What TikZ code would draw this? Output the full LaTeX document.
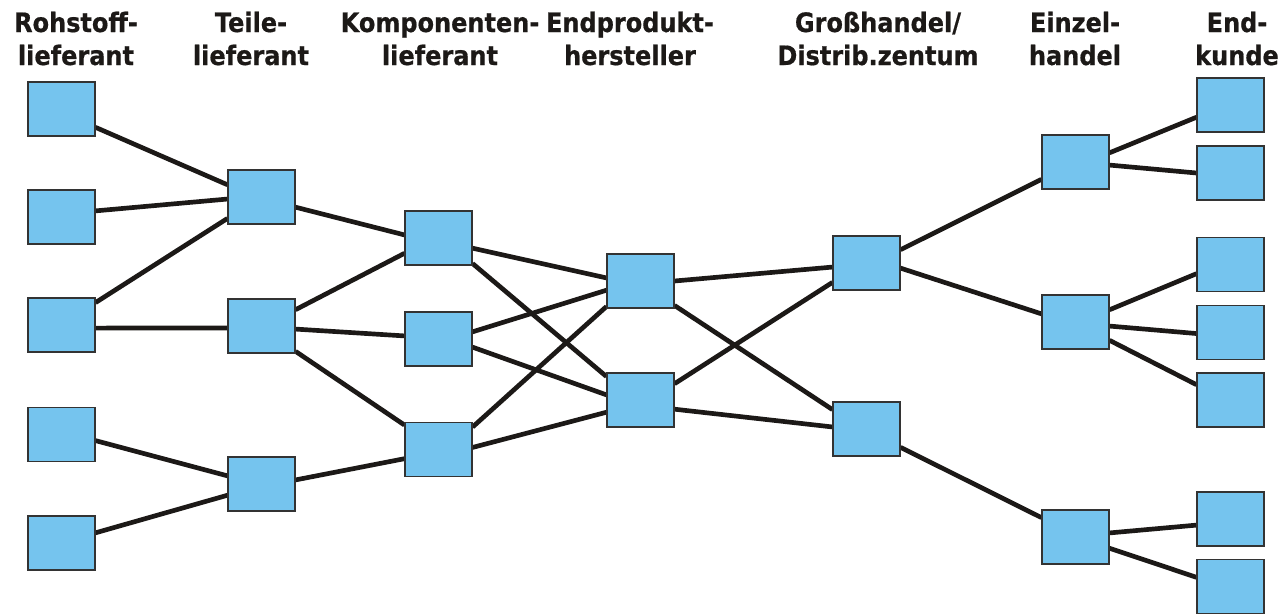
\documentclass[tikz,border=0pt]{standalone}
\usepackage{fontspec}
\setmainfont{DejaVu Sans}[FakeStretch=0.9,BoldFeatures={FakeBold=0.6}]
\usetikzlibrary{calc,backgrounds}
\definecolor{boxfill}{HTML}{75C4EE}
\definecolor{boxline}{HTML}{333333}
\definecolor{linkcol}{HTML}{1C1917}
\tikzset{
 box/.style={draw=boxline, fill=boxfill, line width=0.8pt, minimum width=50.25pt, minimum height=40.5pt, inner sep=0pt},
 link/.style={draw=linkcol, line width=3.5pt},
 title/.style={font=\bfseries\fontsize{20}{24.75}\selectfont, align=center, anchor=base, inner sep=0pt, text=linkcol}
}
\newcommand{\lnk}[4]{\draw[link] ($(#1.north east)!#2!(#1.south east)$) -- ($(#3.north west)!#4!(#3.south west)$);}
\begin{document}
\begin{tikzpicture}[x=0.75pt,y=-0.75pt]
\useasboundingbox (0,0) rectangle (1282,614);
% titles
\node[title] (h1) at (76,65) {Rohstoff-\\lieferant};
\node[title] (h2) at (251,65) {Teile-\\lieferant};
\node[title] (h3) at (440,65) {Komponenten-\\lieferant};
\node[title] (h4) at (630,65) {Endprodukt-\\hersteller};
\node[title] (h5) at (878,65) {Großhandel/\\Distrib.zentum};
\node[title] (h6) at (1075,65) {Einzel-\\handel};
\node[title] (h7) at (1237,65) {End-\\kunde};
% boxes
\node[box] (R1) at (61.5,109) {};
\node[box] (R2) at (61.5,217) {};
\node[box] (R3) at (61.5,325) {};
\node[box] (R4) at (61.5,434.5) {};
\node[box] (R5) at (61.5,543) {};
\node[box] (T1) at (261.5,197) {};
\node[box] (T2) at (261.5,326) {};
\node[box] (T3) at (261.5,484) {};
\node[box] (K1) at (438.5,238) {};
\node[box] (K2) at (438.5,339) {};
\node[box] (K3) at (438.5,449.5) {};
\node[box] (E1) at (640.5,281) {};
\node[box] (E2) at (640.5,400) {};
\node[box] (G1) at (866.5,263) {};
\node[box] (G2) at (866.5,429) {};
\node[box] (H1) at (1075.5,162) {};
\node[box] (H2) at (1075.5,322) {};
\node[box] (H3) at (1075.5,537) {};
\node[box] (C1) at (1230.5,105) {};
\node[box] (C2) at (1230.5,173) {};
\node[box] (C3) at (1230.5,264.5) {};
\node[box] (C4) at (1230.5,332.5) {};
\node[box] (C5) at (1230.5,400) {};
\node[box] (C6) at (1230.5,519) {};
\node[box] (C7) at (1230.5,586.5) {};
% links
\begin{scope}[on background layer]
\lnk{R1}{0.833}{T1}{0.278}
\lnk{R2}{0.389}{T1}{0.537}
\lnk{R3}{0.093}{T1}{0.889}
\lnk{R3}{0.556}{T2}{0.537}
\lnk{R4}{0.611}{T3}{0.352}
\lnk{R5}{0.315}{T3}{0.704}
\lnk{T1}{0.685}{K1}{0.444}
\lnk{T2}{0.204}{K1}{0.778}
\lnk{T2}{0.556}{K2}{0.444}
\lnk{T2}{0.96}{K3}{0.056}
\lnk{T3}{0.426}{K3}{0.667}
\lnk{K1}{0.685}{E1}{0.444}
\lnk{K1}{0.963}{E2}{0.074}
\lnk{K2}{0.370}{E1}{0.667}
\lnk{K2}{0.648}{E2}{0.407}
\lnk{K3}{0.093}{E1}{0.963}
\lnk{K3}{0.463}{E2}{0.722}
\lnk{E1}{0.5}{G1}{0.574}
\lnk{E1}{0.944}{G2}{0.148}
\lnk{E2}{0.204}{G1}{0.852}
\lnk{E2}{0.667}{G2}{0.463}
\lnk{G1}{0.259}{H1}{0.815}
\lnk{G1}{0.593}{H2}{0.352}
\lnk{G2}{0.833}{H3}{0.148}
\lnk{H1}{0.333}{C1}{0.722}
\lnk{H1}{0.556}{C2}{0.5}
\lnk{H2}{0.278}{C3}{0.667}
\lnk{H2}{0.574}{C4}{0.519}
\lnk{H2}{0.833}{C5}{0.222}
\lnk{H3}{0.426}{C6}{0.611}
\lnk{H3}{0.704}{C7}{0.333}
\end{scope}
\end{tikzpicture}
\end{document}
